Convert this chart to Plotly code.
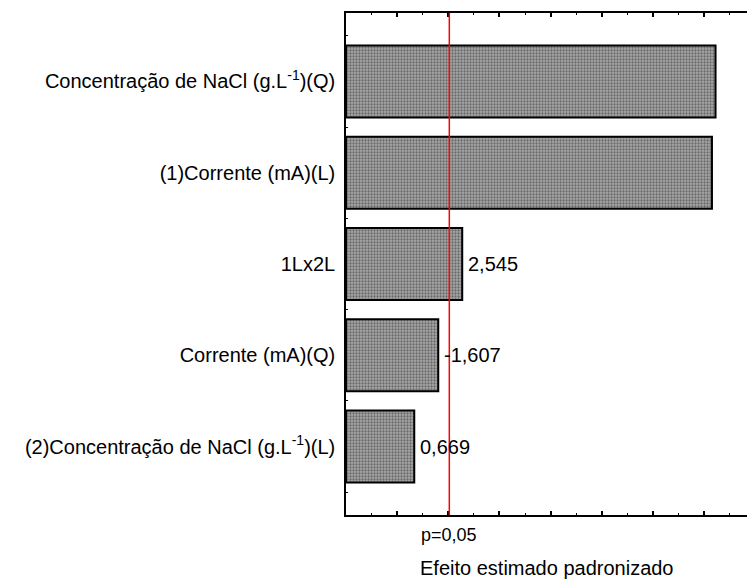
import plotly.graph_objects as go

# Standardized effects (Pareto chart), listed top to bottom
factors = [
    "Concentração de NaCl (g.L<sup>-1</sup>)(Q)",
    "(1)Corrente (mA)(L)",
    "1Lx2L",
    "Corrente (mA)(Q)",
    "(2)Concentração de NaCl (g.L<sup>-1</sup>)(L)",
]
effects = [12.45, 12.31, 2.545, -1.607, 0.669]
value_labels = ["", "", "2,545", "-1,607", "0,669"]
p_limit = 2.04
p_label = "p=0,05"
x_title = "Efeito estimado padronizado"

x_min, x_max = -2, 13.68
n = len(factors)
positions = list(range(n - 1, -1, -1))  # first factor drawn on top
lengths = [abs(v) for v in effects]

font_family = "Liberation Sans, Arial, sans-serif"

fig = go.Figure()
fig.add_trace(go.Bar(
    y=positions,
    x=[l - x_min for l in lengths],
    base=x_min,
    orientation="h",
    width=0.79,
    marker=dict(
        color="#808080",
        line=dict(color="black", width=2),
        pattern=dict(shape=".", fgcolor="#2a2a2a", bgcolor="#a8a8a8",
                     size=3, solidity=0.45),
    ),
    hoverinfo="skip",
))

# value labels at the end of each bar
for pos, length, lab in zip(positions, lengths, value_labels):
    if lab:
        fig.add_annotation(x=length, y=pos, text=lab, showarrow=False,
                           xanchor="left", yanchor="middle", xshift=4,
                           font=dict(size=20, color="black", family=font_family))

# significance limit
fig.add_shape(type="line", x0=p_limit, x1=p_limit, xref="x",
              y0=0, y1=1, yref="paper",
              line=dict(color="#ff0000", width=1.5))
fig.add_annotation(x=p_limit, y=0, yref="paper", text=p_label, showarrow=False,
                   xanchor="center", yanchor="middle", yshift=-20,
                   font=dict(size=18, color="black", family=font_family))
fig.add_annotation(x=0.5, xref="paper", y=0, yref="paper", text=x_title,
                   showarrow=False, xanchor="center", yanchor="middle",
                   yshift=-53,
                   font=dict(size=20, color="black", family=font_family))

fig.update_xaxes(
    range=[x_min, x_max],
    showline=True, linecolor="black", linewidth=1.5, mirror="ticks",
    ticks="inside", tick0=0, dtick=2, ticklen=4, tickwidth=1.5,
    tickcolor="black",
    minor=dict(ticks="inside", tick0=1, dtick=1, ticklen=2, tickwidth=1,
               tickcolor="black"),
    showticklabels=False, showgrid=False, zeroline=False,
)
fig.update_yaxes(
    range=[-0.75, n - 0.25],
    tickmode="array", tickvals=positions, ticktext=factors,
    ticks="", ticklabelstandoff=5,
    minor=dict(tickmode="array", tickvals=[i - 0.5 for i in range(n + 1)],
               ticks="inside", ticklen=2, tickwidth=1, tickcolor="black"),
    showline=True, linecolor="black", linewidth=1.5, mirror=False,
    showgrid=False, zeroline=False,
    tickfont=dict(size=20, color="black", family=font_family),
)
fig.update_layout(
    width=747, height=580,
    margin=dict(l=346, r=0, t=13, b=65),
    plot_bgcolor="white", paper_bgcolor="white",
    showlegend=False,
    font=dict(family=font_family, color="black"),
)

fig.write_html("out.html")
